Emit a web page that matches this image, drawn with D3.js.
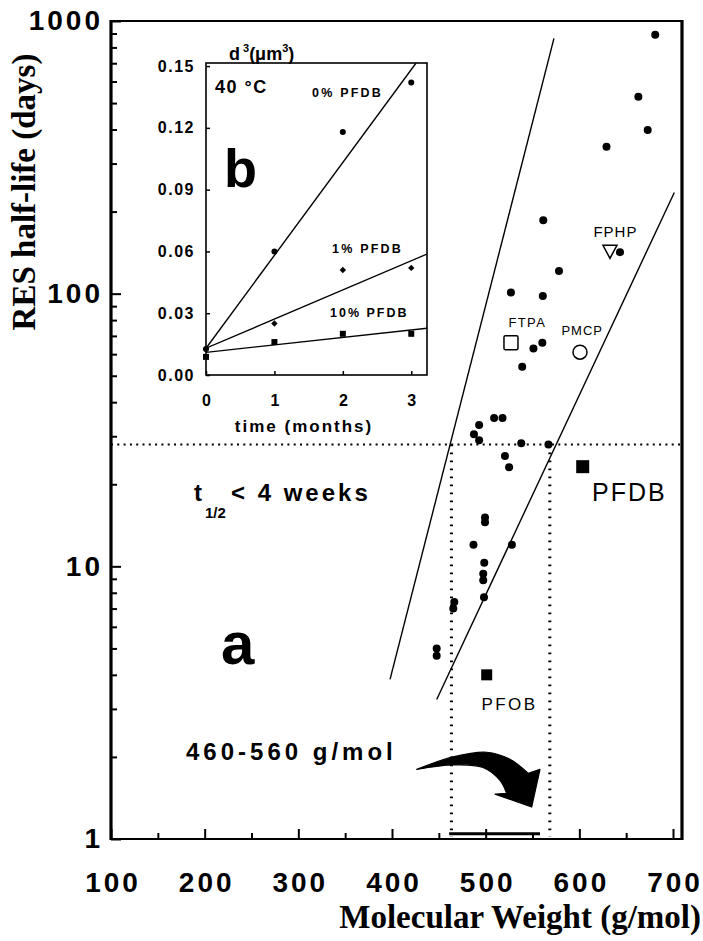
<!DOCTYPE html>
<html><head><meta charset="utf-8">
<script src="https://cdn.jsdelivr.net/npm/d3@7"></script>
<style>
body{margin:0;background:#fff}
svg{display:block}
.sans{font-family:"Liberation Sans",Arial,Helvetica,sans-serif}
.serif{font-family:"Liberation Serif","Times New Roman",serif}
</style>
</head><body>
<script>
// ---------------- Main panel (a) data ----------------
const dotMW   = [681, 663, 673, 629, 561.5, 643.4, 578.3, 527, 561, 560.5, 551, 539, 509, 518, 493, 487.5, 493, 538, 567, 520.6, 525, 499.3, 499.3, 487, 528, 498.5, 497.4, 497.4, 498.2, 466.5, 465.4, 447.7, 447.7];
const dotDays = [890, 528, 398, 346, 186, 142, 121, 101, 98, 66, 63, 54, 35, 35, 33, 30.5, 29, 28.3, 28, 25.4, 23.1, 15.1, 14.5, 12, 12, 10.3, 9.4, 8.9, 7.7, 7.4, 7.0, 5.0, 4.7];

const namedCompounds = ["FPHP", "FTPA", "PMCP", "PFDB", "PFOB"];
const namedMW        = [632.7, 527, 600.7, 603.6, 501.1];
const namedDays      = [143, 66, 61, 23.2, 4.0];
const namedShapes    = ["triangleOpen", "squareOpen", "circleOpen", "squareFilled", "squareFilled"];

const bandUpperLine = [[397.9, 3.85], [572.9, 863]];
const bandLowerLine = [[447.7, 3.25], [701.4, 235]];
const thresholdDays = 28;
const mwWindow = [463.5, 568.5];
const mwBar = [461, 558];

const yTickMajor = [1, 10, 100, 1000];
const xTickMajor = [100, 200, 300, 400, 500, 600, 700];
const xTickMinor = [150, 250, 350, 450, 550, 650];

// ---------------- Inset (b) data ----------------
const months = [0, 1, 2, 3];
const d3_0pct  = [0.0126, 0.060, 0.118, 0.142];
const d3_1pct  = [0.0126, 0.025, 0.051, 0.052];
const d3_10pct = [0.0088, 0.016, 0.020, 0.020];
const fit0pct  = [[0, 0.013], [3.07, 0.1515]];
const fit1pct  = [[0, 0.013], [3.23, 0.0587]];
const fit10pct = [[0, 0.011], [3.23, 0.0227]];
const insetYTicks = [0, 0.03, 0.06, 0.09, 0.12, 0.15];
const insetXTicks = [0, 1, 2, 3];

// ---------------- Setup ----------------
const W = 703, H = 941;
const svg = d3.select("body").append("svg").attr("width", W).attr("height", H);

const xMax = 709.6;
const x = d3.scaleLinear().domain([100, xMax]).range([111, 682]);
const y = d3.scaleLog().domain([1, 1000]).range([839, 21]);

// Minor log ticks
const yTickMinor = [];
[1, 10, 100].forEach(d => { for (let k = 2; k <= 9; k++) yTickMinor.push(d * k); });

// Axes
const gyMin = svg.append("g").attr("transform", `translate(${x(100)},0)`)
  .call(d3.axisLeft(y).tickValues(yTickMinor).tickSizeInner(-6).tickSizeOuter(0).tickFormat(""));
const gy = svg.append("g").attr("transform", `translate(${x(100)},0)`)
  .call(d3.axisLeft(y).tickValues(yTickMajor).tickSizeInner(-10).tickSizeOuter(0).tickPadding(8).tickFormat(d3.format("d")));
const gxMin = svg.append("g").attr("transform", `translate(0,${y(1)})`)
  .call(d3.axisBottom(x).tickValues(xTickMinor).tickSizeInner(-6).tickSizeOuter(0).tickFormat(""));
const gx = svg.append("g").attr("transform", `translate(0,${y(1)})`)
  .call(d3.axisBottom(x).tickValues(xTickMajor).tickSizeInner(-10).tickSizeOuter(0).tickPadding(33).tickFormat(d3.format("d")));
[gyMin, gy, gxMin, gx].forEach(g => {
  g.select(".domain").remove();
  g.selectAll(".tick line").attr("stroke", "#000").attr("stroke-width", 2);
});
[gy, gx].forEach(g => g.selectAll("text")
  .attr("class", "sans").attr("font-size", 28).attr("font-weight", "bold")
  .attr("fill", "#000").style("letter-spacing", "3px"));
gx.selectAll("text").attr("dx", 1.5);

// Frame
const frame = svg.append("g").attr("stroke", "#000").attr("fill", "none");
frame.append("line").attr("x1", x(100)).attr("x2", x(100)).attr("y1", y(1000) - 1).attr("y2", y(1) + 1).attr("stroke-width", 3.2);
frame.append("line").attr("x1", x(xMax)).attr("x2", x(xMax)).attr("y1", y(1000) - 1).attr("y2", y(1) + 1).attr("stroke-width", 3.2);
frame.append("line").attr("x1", x(100)).attr("x2", x(xMax)).attr("y1", y(1000)).attr("y2", y(1000)).attr("stroke-width", 2);
frame.append("line").attr("x1", x(100)).attr("x2", x(xMax)).attr("y1", y(1)).attr("y2", y(1)).attr("stroke-width", 2);

// Dotted threshold lines
svg.append("line").attr("x1", x(100)).attr("x2", x(xMax)).attr("y1", y(thresholdDays)).attr("y2", y(thresholdDays))
  .attr("stroke", "#000").attr("stroke-width", 2).attr("stroke-dasharray", "2,4.3");
mwWindow.forEach(m => svg.append("line").attr("x1", x(m)).attr("x2", x(m))
  .attr("y1", y(thresholdDays)).attr("y2", y(1.02))
  .attr("stroke", "#000").attr("stroke-width", 3).attr("stroke-dasharray", "1.8,6.2"));

// Band lines
const lineGen = d3.line().x(d => x(d[0])).y(d => y(d[1]));
[bandUpperLine, bandLowerLine].forEach(l => svg.append("path").attr("d", lineGen(l))
  .attr("stroke", "#000").attr("stroke-width", 1.4).attr("fill", "none"));

// MW bar at the bottom
svg.append("line").attr("x1", x(mwBar[0])).attr("x2", x(mwBar[1])).attr("y1", y(1.045)).attr("y2", y(1.045))
  .attr("stroke", "#000").attr("stroke-width", 3);

// Dots
svg.append("g").selectAll("circle").data(dotMW).join("circle")
  .attr("cx", d => x(d)).attr("cy", (d, i) => y(dotDays[i])).attr("r", 4).attr("fill", "#000");

// Named compounds
const gN = svg.append("g");
namedCompounds.forEach((name, i) => {
  const cx = x(namedMW[i]), cy = y(namedDays[i]), s = namedShapes[i];
  if (s === "triangleOpen") {
    gN.append("path").attr("d", `M${cx - 7},${cy - 6}L${cx + 7},${cy - 6}L${cx},${cy + 7}Z`)
      .attr("fill", "#fff").attr("stroke", "#000").attr("stroke-width", 1.5);
  } else if (s === "squareOpen") {
    gN.append("rect").attr("x", cx - 7).attr("y", cy - 7).attr("width", 14).attr("height", 14).attr("rx", 1.5)
      .attr("fill", "#fff").attr("stroke", "#000").attr("stroke-width", 1.5);
  } else if (s === "circleOpen") {
    gN.append("circle").attr("cx", cx).attr("cy", cy).attr("r", 7)
      .attr("fill", "#fff").attr("stroke", "#000").attr("stroke-width", 1.5);
  } else {
    const h = name === "PFDB" ? 6.5 : 5.5;
    gN.append("rect").attr("x", cx - h).attr("y", cy - h).attr("width", 2 * h).attr("height", 2 * h).attr("fill", "#000");
  }
});
const labelStyle = {
  FPHP: {dx: 5, dy: -20, fs: 15, ls: 1},
  FTPA: {dx: 15.7, dy: -20.6, fs: 13, ls: 1.4},
  PMCP: {dx: 1.7, dy: -22, fs: 13, ls: 1},
  PFDB: {dx: 45.6, dy: 25, fs: 25, ls: 2},
  PFOB: {dx: 21.6, dy: 30, fs: 17, ls: 2.5}
};
namedCompounds.forEach((name, i) => {
  const st = labelStyle[name];
  gN.append("text").attr("class", "sans")
    .attr("x", x(namedMW[i]) + st.dx + st.ls / 2).attr("y", y(namedDays[i]) + st.dy)
    .attr("text-anchor", "middle").attr("dominant-baseline", "central")
    .attr("font-size", st.fs).style("letter-spacing", st.ls + "px").text(name);
});

// Curved arrow (annotation, in data coordinates)
const arrowUpper = [[426.4, 1.80], [465.1, 2.00], [501.1, 2.08], [526.0, 1.96], [545.5, 1.74]];
const arrowHead = [[558.0, 1.80], [549.1, 1.31], [510.0, 1.46]];
const arrowLower = [[522.4, 1.47], [515.3, 1.64], [497.1, 1.83], [465.1, 1.87], [426.4, 1.80]];
const cr = d3.line().x(d => x(d[0])).y(d => y(d[1])).curve(d3.curveCatmullRom);
let arrowD = cr(arrowUpper);
arrowHead.forEach(p => { arrowD += `L${x(p[0])},${y(p[1])}`; });
arrowD += "L" + cr(arrowLower).slice(1) + "Z";
svg.append("path").attr("d", arrowD).attr("fill", "#000").attr("stroke", "#000").attr("stroke-width", 1.2)
  .attr("stroke-linejoin", "round");

// Annotations main
svg.append("text").attr("class", "sans").attr("x", 221).attr("y", 664)
  .attr("font-size", 60).attr("font-weight", "bold").text("a");
svg.append("text").attr("class", "sans").attr("x", 186).attr("y", 760)
  .attr("font-size", 24).attr("font-weight", "bold").style("letter-spacing", "4px").text("460-560 g/mol");
const tw = svg.append("text").attr("class", "sans").attr("font-weight", "bold");
tw.append("tspan").attr("x", 194).attr("y", 501).attr("font-size", 24).text("t");
tw.append("tspan").attr("x", 205).attr("y", 518).attr("font-size", 15).text("1/2");
tw.append("tspan").attr("x", 231).attr("y", 501).attr("font-size", 24).style("letter-spacing", "3px").text("< 4 weeks");

// Axis titles
svg.append("text").attr("class", "serif").attr("text-anchor", "end")
  .attr("x", 701).attr("y", 928).attr("font-size", 33).attr("font-weight", "bold")
  .text("Molecular Weight (g/mol)");
svg.append("text").attr("class", "serif").attr("text-anchor", "middle")
  .attr("transform", "translate(35,192) rotate(-90)").attr("font-size", 33).attr("font-weight", "bold")
  .text("RES half-life (days)");

// ---------------- Inset ----------------
const xi = d3.scaleLinear().domain([0, 3.23]).range([206, 427]);
const yi = d3.scaleLinear().domain([0, 0.1515]).range([375, 63]);
const gi = svg.append("g");
gi.append("rect").attr("x", xi(0)).attr("y", yi(0.1515)).attr("width", xi(3.23) - xi(0)).attr("height", yi(0) - yi(0.1515))
  .attr("fill", "#fff").attr("stroke", "#000").attr("stroke-width", 1.6);
const giy = gi.append("g").attr("transform", `translate(${xi(0)},0)`)
  .call(d3.axisLeft(yi).tickValues(insetYTicks).tickSizeInner(-4).tickSizeOuter(0).tickPadding(11).tickFormat(d3.format(".2f")));
const gix = gi.append("g").attr("transform", `translate(0,${yi(0)})`)
  .call(d3.axisBottom(xi).tickValues(insetXTicks).tickSizeInner(-4).tickSizeOuter(0).tickPadding(20).tickFormat(d3.format("d")));
[giy, gix].forEach(g => {
  g.select(".domain").remove();
  g.selectAll(".tick line").attr("stroke", "#000").attr("stroke-width", 1.5);
  g.selectAll("text").attr("class", "sans").attr("font-size", 16).attr("font-weight", "bold")
    .attr("fill", "#000").style("letter-spacing", "1.5px");
});
gix.selectAll("text").attr("dx", 0.75);

const clip = svg.append("defs").append("clipPath").attr("id", "insetClip");
clip.append("rect").attr("x", xi(0)).attr("y", yi(0.1515)).attr("width", xi(3.23) - xi(0)).attr("height", yi(0) - yi(0.1515));
const li = d3.line().x(d => xi(d[0])).y(d => yi(d[1]));
const gil = gi.append("g").attr("clip-path", "url(#insetClip)");
[fit0pct, fit1pct, fit10pct].forEach(f => gil.append("path").attr("d", li(f))
  .attr("stroke", "#000").attr("stroke-width", 1.4).attr("fill", "none"));

// markers
gi.append("g").selectAll("circle").data(months).join("circle")
  .attr("cx", d => xi(d)).attr("cy", (d, i) => yi(d3_0pct[i])).attr("r", 3).attr("fill", "#000");
gi.append("g").selectAll("path").data(months).join("path")
  .attr("d", (d, i) => { const cx = xi(d), cy = yi(d3_1pct[i]); return `M${cx},${cy - 3.2}L${cx + 3.2},${cy}L${cx},${cy + 3.2}L${cx - 3.2},${cy}Z`; })
  .attr("fill", "#000");
gi.append("g").selectAll("rect").data(months).join("rect")
  .attr("x", d => xi(d) - 3).attr("y", (d, i) => yi(d3_10pct[i]) - 3).attr("width", 6).attr("height", 6).attr("fill", "#000");

// inset texts
const itxt = (t, xx, yy, fs, ls, anchor) => gi.append("text").attr("class", "sans").attr("x", xx).attr("y", yy)
  .attr("font-size", fs).attr("font-weight", "bold").attr("text-anchor", anchor || "start")
  .style("letter-spacing", ls + "px").text(t);
itxt("0% PFDB", 312, 97, 12.5, 2.2);
itxt("1% PFDB", 332, 253, 12.5, 2.2);
itxt("10% PFDB", 330, 317, 12.5, 2.0);
itxt("40 °C", 215, 93, 18, 1.5);
gi.append("text").attr("class", "sans").attr("x", 224).attr("y", 187)
  .attr("font-size", 54).attr("font-weight", "bold").text("b");
itxt("time (months)", 304, 432, 17, 2, "middle");
const dt = gi.append("text").attr("class", "sans").attr("x", 229).attr("y", 60).attr("font-weight", "bold").attr("font-size", 18);
dt.append("tspan").text("d");
dt.append("tspan").attr("font-size", 11).attr("dy", -8).attr("dx", 3).text("3");
dt.append("tspan").attr("dy", 8).text("(μm");
dt.append("tspan").attr("font-size", 11).attr("dy", -8).text("3");
dt.append("tspan").attr("dy", 8).text(")");
</script>
</body></html>
